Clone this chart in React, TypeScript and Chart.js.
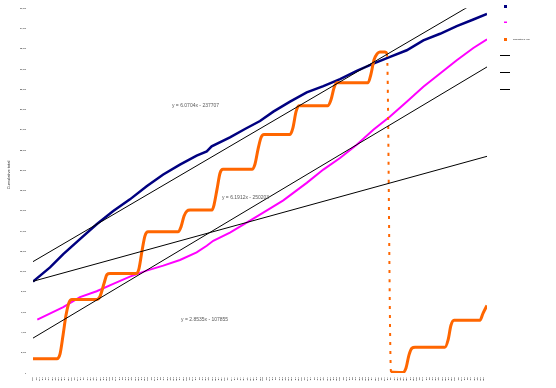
import { useEffect, useRef } from "react";
import { Chart, registerables } from "chart.js";

Chart.register(...registerables);

// x values are Excel serial dates (days), as used by the trendline equations
const axisStart = 40969; // 1 Mar 2012
const axisEnd = 45291; // 31 Dec 2023

const seriesNames = ["Cumulative total", "Cumulative total (B)", "Cumulative in year"];

const navyDates = [40969, 41131, 41257, 41416, 41575, 41733, 41892, 42051, 42209, 42368, 42527, 42623, 42670, 42844, 42987, 43130, 43257, 43416, 43575, 43733, 43892, 44051, 44209, 44368, 44527, 44685, 44844, 45003, 45161, 45291];
const navyValues = [9023, 10426, 11740, 13211, 14683, 15987, 17135, 18439, 19587, 20567, 21450, 21872, 22362, 23245, 24079, 24863, 25795, 26776, 27688, 28316, 29002, 29816, 30532, 31189, 31847, 32827, 33475, 34230, 34887, 35436];

const magentaDates = [41010, 41257, 41416, 41575, 41733, 41892, 42051, 42209, 42368, 42527, 42623, 42685, 42844, 43003, 43161, 43352, 43575, 43733, 43892, 44051, 44209, 44368, 44527, 44685, 44844, 45003, 45161, 45291];
const magentaValues = [5267, 6503, 7484, 8072, 8798, 9514, 10102, 10593, 11152, 11897, 12554, 13045, 13859, 14839, 15820, 17036, 18763, 20077, 21215, 22529, 24000, 25305, 26776, 28247, 29552, 30866, 32072, 32925];

const orangeDates = [
  40969, 41197, 41226, 41255, 41283, 41312, 41340,
  41578, 41607, 41645, 41673, 41702,
  41950, 41978, 42007, 42035, 42064,
  42349, 42378, 42407, 42435, 42464,
  42673, 42692, 42721, 42749, 42778,
  43054, 43082, 43111, 43140, 43168,
  43416, 43444, 43473, 43501,
  43777, 43806, 43835, 43863,
  44158, 44187, 44215, 44244, 44272, 44320, 44339,
  44377, 44491, 44520, 44548, 44577, 44606,
  44891, 44920, 44948, 44977,
  45224, 45253, 45291,
];
const orangeValues = [
  1403, 1403, 1864, 3727, 5689, 6964, 7258,
  7258, 7552, 8827, 9710, 9808,
  9808, 10298, 12064, 13535, 13927,
  13927, 14418, 15497, 15987, 16085,
  16085, 16576, 18145, 19714, 20106,
  20106, 20597, 22068, 23245, 23539,
  23539, 24226, 25795, 26384,
  26384, 26972, 28149, 28639,
  28639, 29522, 30895, 31484, 31680, 31680, 31484,
  98, 50, 490, 1765, 2452, 2550,
  2550, 3237, 4708, 5198,
  5198, 5885, 6669,
];

// Linear trendlines (y = a*x + b) as printed on the chart
const trendSlopes = [6.0704, 6.1912, 2.8535];
const trendIntercepts = [-237707, -250203, -107855];
const trendLabelAnchors = [
  [42292, 26384],
  [42768, 17262],
  [42378, 5296],
];

const yTickStep = 2000;
const yMax = 36000;

const MONTHS = ["Jan", "Feb", "Mar", "Apr", "May", "Jun", "Jul", "Aug", "Sep", "Oct", "Nov", "Dec"];
const monthTicks: number[] = [];
{
  let y = 2012;
  let m = 2;
  for (;;) {
    const s = Date.UTC(y, m, 1) / 864e5 + 25569;
    if (s > axisEnd) break;
    monthTicks.push(s);
    m++;
    if (m === 12) {
      m = 0;
      y++;
    }
  }
}
function monthLabel(serial: number) {
  const d = new Date((serial - 25569) * 864e5);
  return MONTHS[d.getUTCMonth()] + "-" + String(d.getUTCFullYear()).slice(2);
}

const NAVY = "#000080";
const MAGENTA = "#ff00ff";
const ORANGE = "#ff6600";
const FONT = "Liberation Sans, Arial, sans-serif";

const zip = (xs: number[], ys: number[]) => xs.map((x, i) => ({ x, y: ys[i] }));

const overlayPlugin = {
  id: "overlay",
  afterDraw(chart: any) {
    const ctx = chart.ctx as CanvasRenderingContext2D;
    const xs = chart.scales.x;
    const ys = chart.scales.y;
    ctx.save();
    // trendline equations
    ctx.font = `5px ${FONT}`;
    ctx.fillStyle = "#595959";
    ctx.textAlign = "left";
    ctx.textBaseline = "middle";
    trendSlopes.forEach((a, i) => {
      const b = trendIntercepts[i];
      const txt = `y = ${a.toFixed(4)}x ${b < 0 ? "-" : "+"} ${Math.abs(b)}`;
      const [lx, ly] = trendLabelAnchors[i];
      ctx.fillText(txt, xs.getPixelForValue(lx), ys.getPixelForValue(ly));
    });
    // y axis title
    ctx.save();
    ctx.translate(9, 175);
    ctx.rotate(-Math.PI / 2);
    ctx.font = `4px ${FONT}`;
    ctx.fillStyle = "#333";
    ctx.textAlign = "center";
    ctx.fillText("Cumulative total", 0, 0);
    ctx.restore();
    // legend
    const lx = 504;
    ctx.fillStyle = NAVY;
    ctx.fillRect(lx, 5, 3, 3);
    ctx.fillStyle = MAGENTA;
    ctx.fillRect(lx, 21.5, 3, 1.5);
    ctx.fillStyle = ORANGE;
    ctx.fillRect(lx, 38, 3, 3);
    ctx.strokeStyle = "#000";
    ctx.lineWidth = 1;
    [55.5, 72.5, 89.5].forEach((y) => {
      ctx.beginPath();
      ctx.moveTo(500, y);
      ctx.lineTo(510, y);
      ctx.stroke();
    });
    ctx.fillStyle = "#000";
    ctx.font = `2px ${FONT}`;
    ctx.textAlign = "left";
    ctx.fillText(seriesNames[2], 513, 39.5);
    ctx.restore();
  },
};

export default function App() {
  const ref = useRef<HTMLCanvasElement | null>(null);
  useEffect(() => {
    document.body.style.margin = "0";
    if (!ref.current) return;
    const trendDatasets = trendSlopes.map((a, i) => ({
      label: `Linear (${seriesNames[i]})`,
      data: [
        { x: axisStart, y: a * axisStart + trendIntercepts[i] },
        { x: axisEnd, y: a * axisEnd + trendIntercepts[i] },
      ],
      borderColor: "#000",
      borderWidth: 1,
      pointRadius: 0,
      order: 0,
    }));
    const chart = new Chart(ref.current, {
      type: "line",
      data: {
        datasets: [
          {
            label: seriesNames[0],
            data: zip(navyDates, navyValues),
            borderColor: NAVY,
            borderWidth: 2.5,
            pointRadius: 0,
            order: 3,
          },
          {
            label: seriesNames[1],
            data: zip(magentaDates, magentaValues),
            borderColor: MAGENTA,
            borderWidth: 2,
            pointRadius: 0,
            order: 2,
          },
          {
            label: seriesNames[2],
            data: zip(orangeDates, orangeValues),
            borderColor: ORANGE,
            borderWidth: 3,
            pointRadius: 0,
            cubicInterpolationMode: "monotone",
            order: 1,
            segment: {
              borderDash: (c: any) => (c.p0.parsed.y - c.p1.parsed.y > 5000 ? [3, 6] : undefined),
              borderWidth: (c: any) => (c.p0.parsed.y - c.p1.parsed.y > 5000 ? 2 : undefined),
            },
          } as any,
          ...trendDatasets,
        ],
      },
      options: {
        responsive: false,
        animation: false,
        devicePixelRatio: 1,
        layout: { padding: { top: 6, right: 69, left: 0, bottom: 0 } },
        plugins: {
          legend: { display: false },
          tooltip: { enabled: false },
        },
        scales: {
          x: {
            type: "linear",
            min: axisStart,
            max: axisEnd,
            grid: { display: false, drawTicks: false },
            border: { display: false },
            afterBuildTicks: (s: any) => {
              s.ticks = monthTicks.map((v) => ({ value: v }));
            },
            afterFit: (s: any) => {
              s.height = 15;
            },
            ticks: {
              autoSkip: false,
              maxRotation: 90,
              minRotation: 90,
              padding: 4,
              color: "#000",
              font: { size: 1.1, family: FONT },
              callback: (v: any) => monthLabel(Number(v)),
            },
          },
          y: {
            min: 0,
            max: yMax,
            grid: { display: false, drawTicks: false },
            border: { display: false },
            afterFit: (s: any) => {
              s.width = 33;
            },
            ticks: {
              stepSize: yTickStep,
              autoSkip: false,
              padding: 7,
              color: "#000",
              font: { size: 2, family: FONT },
            },
          },
        },
      } as any,
      plugins: [overlayPlugin],
    });
    return () => chart.destroy();
  }, []);
  return (
    <div style={{ width: 556, height: 388, position: "relative" }}>
      <canvas ref={ref} width={556} height={388} style={{ display: "block" }} />
    </div>
  );
}
